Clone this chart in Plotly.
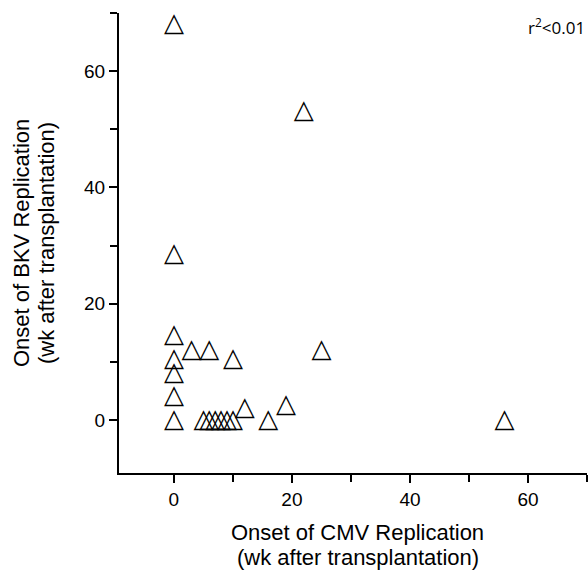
import plotly.graph_objects as go

cmv_onset = [0, 22, 0, 0, 3, 6, 0, 10, 0, 0, 0, 5, 6, 7, 8, 9, 10, 12, 16, 19, 25, 56]
bkv_onset = [68, 53, 28.5, 14.5, 12, 12, 10.5, 10.5, 8, 4, 0, 0, 0, 0, 0, 0, 0, 2, 0, 2.5, 12, 0]

x_ticks = [0, 20, 40, 60]
y_ticks = [0, 20, 40, 60]
minor_ticks = [10, 30, 50, 70]

x_title = ["Onset of CMV Replication", "(wk after transplantation)"]
y_title = ["Onset of BKV Replication", "(wk after transplantation)"]

fig = go.Figure()
fig.add_trace(go.Scatter(
    x=cmv_onset, y=bkv_onset, mode="text", text=["△"] * len(cmv_onset),
    textposition="middle center",
    textfont=dict(family="DejaVu Sans", size=26, color="black"),
    showlegend=False, cliponaxis=False,
))

tickfont = dict(family="Liberation Sans, Arial, sans-serif", size=19, color="black")
titlefont = dict(family="Liberation Sans, Arial, sans-serif", size=22, color="black")

axis_common = dict(
    tickmode="array", ticks="outside", ticklen=8, tickwidth=2, tickcolor="black",
    showline=True, linecolor="black", linewidth=2, showgrid=False, zeroline=False,
    tickfont=tickfont,
    minor=dict(tickvals=minor_ticks, ticks="outside", ticklen=7, tickwidth=2, tickcolor="black"),
)

annotations = [dict(
    text="r<sup>2</sup><0.01", x=1, y=0.97, xref="paper", yref="paper",
    xanchor="right", yanchor="middle", showarrow=False,
    font=dict(family="Open Sans, sans-serif", size=17, color="black"),
)]
for i, line in enumerate(x_title):
    annotations.append(dict(
        text=line, x=0.51, y=0, xref="paper", yref="paper",
        xanchor="center", yanchor="middle", yshift=-59 - 25 * i,
        showarrow=False, font=titlefont,
    ))
for i, line in enumerate(y_title):
    annotations.append(dict(
        text=line, x=0, y=0.5, xref="paper", yref="paper",
        xanchor="center", yanchor="middle", xshift=-98 + 25 * i, textangle=-90,
        showarrow=False, font=titlefont,
    ))

fig.update_layout(
    width=588, height=571,
    margin=dict(l=119, r=1, t=13, b=98),
    paper_bgcolor="white", plot_bgcolor="white",
    xaxis=dict(range=[-9.3, 70], tickvals=x_ticks, **axis_common),
    yaxis=dict(range=[-9.1, 70], tickvals=y_ticks, **axis_common),
    annotations=annotations,
)

fig.write_html("out.html")
